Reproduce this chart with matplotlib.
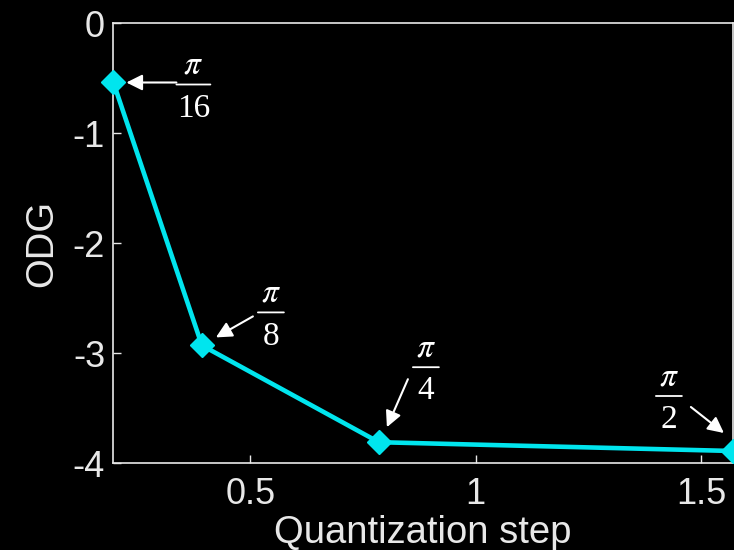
"""ODG versus quantization step, black-background figure."""

import numpy as np
import matplotlib
matplotlib.use("Agg")
import matplotlib.pyplot as plt
from matplotlib.transforms import offset_copy

# quantization steps pi/16, pi/8, pi/4, pi/2
step = [np.pi / 16, np.pi / 8, np.pi / 4, np.pi / 2]
odg = [-0.54, -2.93, -3.81, -3.89]
denoms = ["16", "8", "4", "2"]

# (arrow tip, arrow tail, fraction bar centre) offsets from each point, px
OFFSETS = [
    ((13, 0), (63, 0), (80, -2)),
    ((14, 8), (51, 29), (69, 33)),
    ((8, 15), (29, 63), (47, 75)),
    ((-9, 18), (-42, 44), (-64, 55)),
]

FG = "#e8e8e8"
CYAN = "#00e5ee"

plt.rcParams["font.family"] = ["Liberation Sans", "DejaVu Sans"]
plt.rcParams["mathtext.fontset"] = "stix"


def shifted(fig, ax, dx, dy):
    return offset_copy(ax.transData, fig, x=dx, y=dy, units="dots")


fig = plt.figure(figsize=(7.34, 5.5), dpi=100, facecolor="black")
ax = fig.add_axes([0.1545, 0.158, 0.844, 0.8])
ax.set_facecolor("black")

ax.plot(step, odg, color=CYAN, lw=3.3, marker="D", ms=12.5,
        mec=CYAN, mfc=CYAN, clip_on=False, zorder=3)

for x, y, den, (tip, tail, bar) in zip(step, odg, denoms, OFFSETS):
    ax.annotate("", xy=(x, y), xycoords=shifted(fig, ax, *tip),
                xytext=(x, y), textcoords=shifted(fig, ax, *tail),
                annotation_clip=False,
                arrowprops=dict(arrowstyle="-|>", color="white", lw=1.5,
                                mutation_scale=24, shrinkA=0, shrinkB=0))
    # hand-built fraction: pi over the denominator, with a bar between
    half = 17 if len(den) > 1 else 13
    bx, by = bar
    ax.annotate("", xy=(x, y), xycoords=shifted(fig, ax, bx + half, by),
                xytext=(x, y), textcoords=shifted(fig, ax, bx - half, by),
                annotation_clip=False,
                arrowprops=dict(arrowstyle="-", color="white", lw=1.3,
                                shrinkA=0, shrinkB=0))
    ax.text(x, y, r"$\pi$", transform=shifted(fig, ax, bx, by + 19),
            color="white", fontsize=24, ha="center", va="center",
            clip_on=False)
    ax.text(x, y, den, transform=shifted(fig, ax, bx, by - 24),
            color="white", fontsize=24, family="Liberation Serif",
            ha="center", va="center", clip_on=False)

ax.set_xlim(np.pi / 16, np.pi / 2)
ax.set_ylim(-4, 0)
ax.set_xticks([0.5, 1, 1.5])
ax.set_xticklabels(["0.5", "1", "1.5"])
ax.set_yticks([0, -1, -2, -3, -4])
ax.set_yticklabels(["0", "-1", "-2", "-3", "-4"])

for sp in ax.spines.values():
    sp.set_color(FG)
    sp.set_linewidth(1.2)
ax.tick_params(direction="in", length=6, width=1, colors=FG,
               labelsize=26, top=False, right=False)
ax.tick_params(axis="x", pad=10)
ax.tick_params(axis="y", pad=6)

ax.set_xlabel("Quantization step", color=FG, fontsize=27.5, labelpad=2)
ax.set_ylabel("ODG", color=FG, fontsize=27.5, labelpad=9)

fig.savefig("out.png", dpi=100, facecolor="black")
